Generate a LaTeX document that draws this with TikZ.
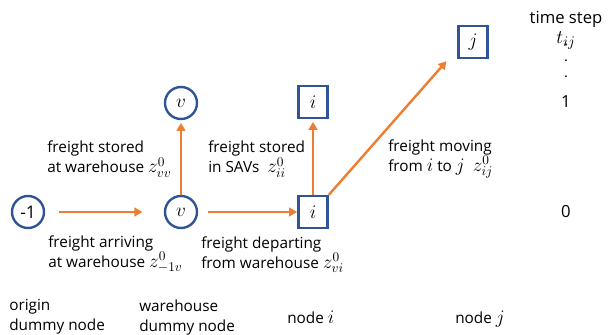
\documentclass[tikz,border=0pt]{standalone}
\usepackage{fontspec}
\setmainfont{Open Sans}
\usetikzlibrary{arrows.meta, positioning}

% math set a bit larger next to the sans text
\DeclareMathSizes{11.5}{13.5}{10}{8}
\DeclareMathSizes{12.5}{14.5}{10.5}{8.5}
\DeclareMathSizes{13}{15}{11}{9}

\definecolor{nodeblue}{HTML}{2F5597}
\definecolor{floworange}{HTML}{ED7D31}

\begin{document}
\begin{tikzpicture}[x=0.75pt, y=-0.75pt,
          every node/.style={font=\fontsize{11.5}{15}\selectfont},
          station/.style={circle, draw=nodeblue, line width=1.8pt, minimum size=24pt, inner sep=0pt, font=\fontsize{13}{14}\selectfont},
          site/.style={rectangle, draw=nodeblue, line width=1.8pt, minimum width=22pt, minimum height=24pt, inner sep=0pt, font=\fontsize{13}{14}\selectfont},
          flow/.style={-{Triangle[length=6pt, width=6.5pt]}, line width=1.8pt, color=floworange},
          note/.style={align=left, anchor=north west, inner sep=0pt},
          tick/.style={font=\fontsize{12.5}{15}\selectfont}]

        \useasboundingbox (0,0) rectangle (610,335);

        % nodes of the time-expanded graph
        \node [station] (origin) at (28,212) {-1};
        \node [station] (wh0) at (181,212) {$v$};
        \node [station] (wh1) at (181,103) {$v$};
        \node [site] (i0) at (313,212) {$i$};
        \node [site] (i1) at (313,102) {$i$};
        \node [site] (j1) at (473,42) {$j$};

        % freight flows
        \draw [flow, shorten <=10pt, shorten >=16pt] (origin) -- (wh0);
        \draw [flow, shorten <=7pt] (wh0) -- (i0);
        \draw [flow, shorten >=2pt] (wh0) -- (wh1);
        \draw [flow, shorten >=2pt] (i0) -- (i1);
        \draw [flow] (i0.north east) -- ([xshift=-8pt, yshift=-1.5pt]j1.south west);

        % flow descriptions
        \node [note] (storedv) at (47,141) {freight stored\\at warehouse $z^0_{vv}$};
        \node [note] (arrive) at (48,235) {freight arriving\\at warehouse $z^0_{-1v}$};
        \node [note] (storedi) at (208,141) {freight stored\\in SAVs~ $z^0_{ii}$};
        \node [note] (depart) at (201,236) {freight departing\\from warehouse $z^0_{vi}$};
        \node [note] (moving) at (388,139) {freight moving\\from $i$ to $j$~ $z^0_{ij}$};

        % time axis
        \node [tick, anchor=base] (tstep) at (566,24) {time step};
        \node [tick] (tij) at (566,41) {$t_{ij}$};
        \node [align=center, inner sep=0pt, font=\fontsize{11}{12}\selectfont] (tdots) at (566,61) {.\\.\\.};
        \node [tick] (tone) at (tstep |- i1) {1};
        \node [tick] (tzero) at (tstep |- i0) {0};

        % column captions
        \node [note] (orglbl) at (9,299) {origin\\dummy node};
        \node [note] (whlbl) at (139,300) {warehouse\\dummy node};
        \node [anchor=base west, inner sep=0pt] (ilbl) at (287,323) {node $i$};
        \node [anchor=base west, inner sep=0pt] (jlbl) at (455,323) {node $j$};
      \end{tikzpicture}
\end{document}
